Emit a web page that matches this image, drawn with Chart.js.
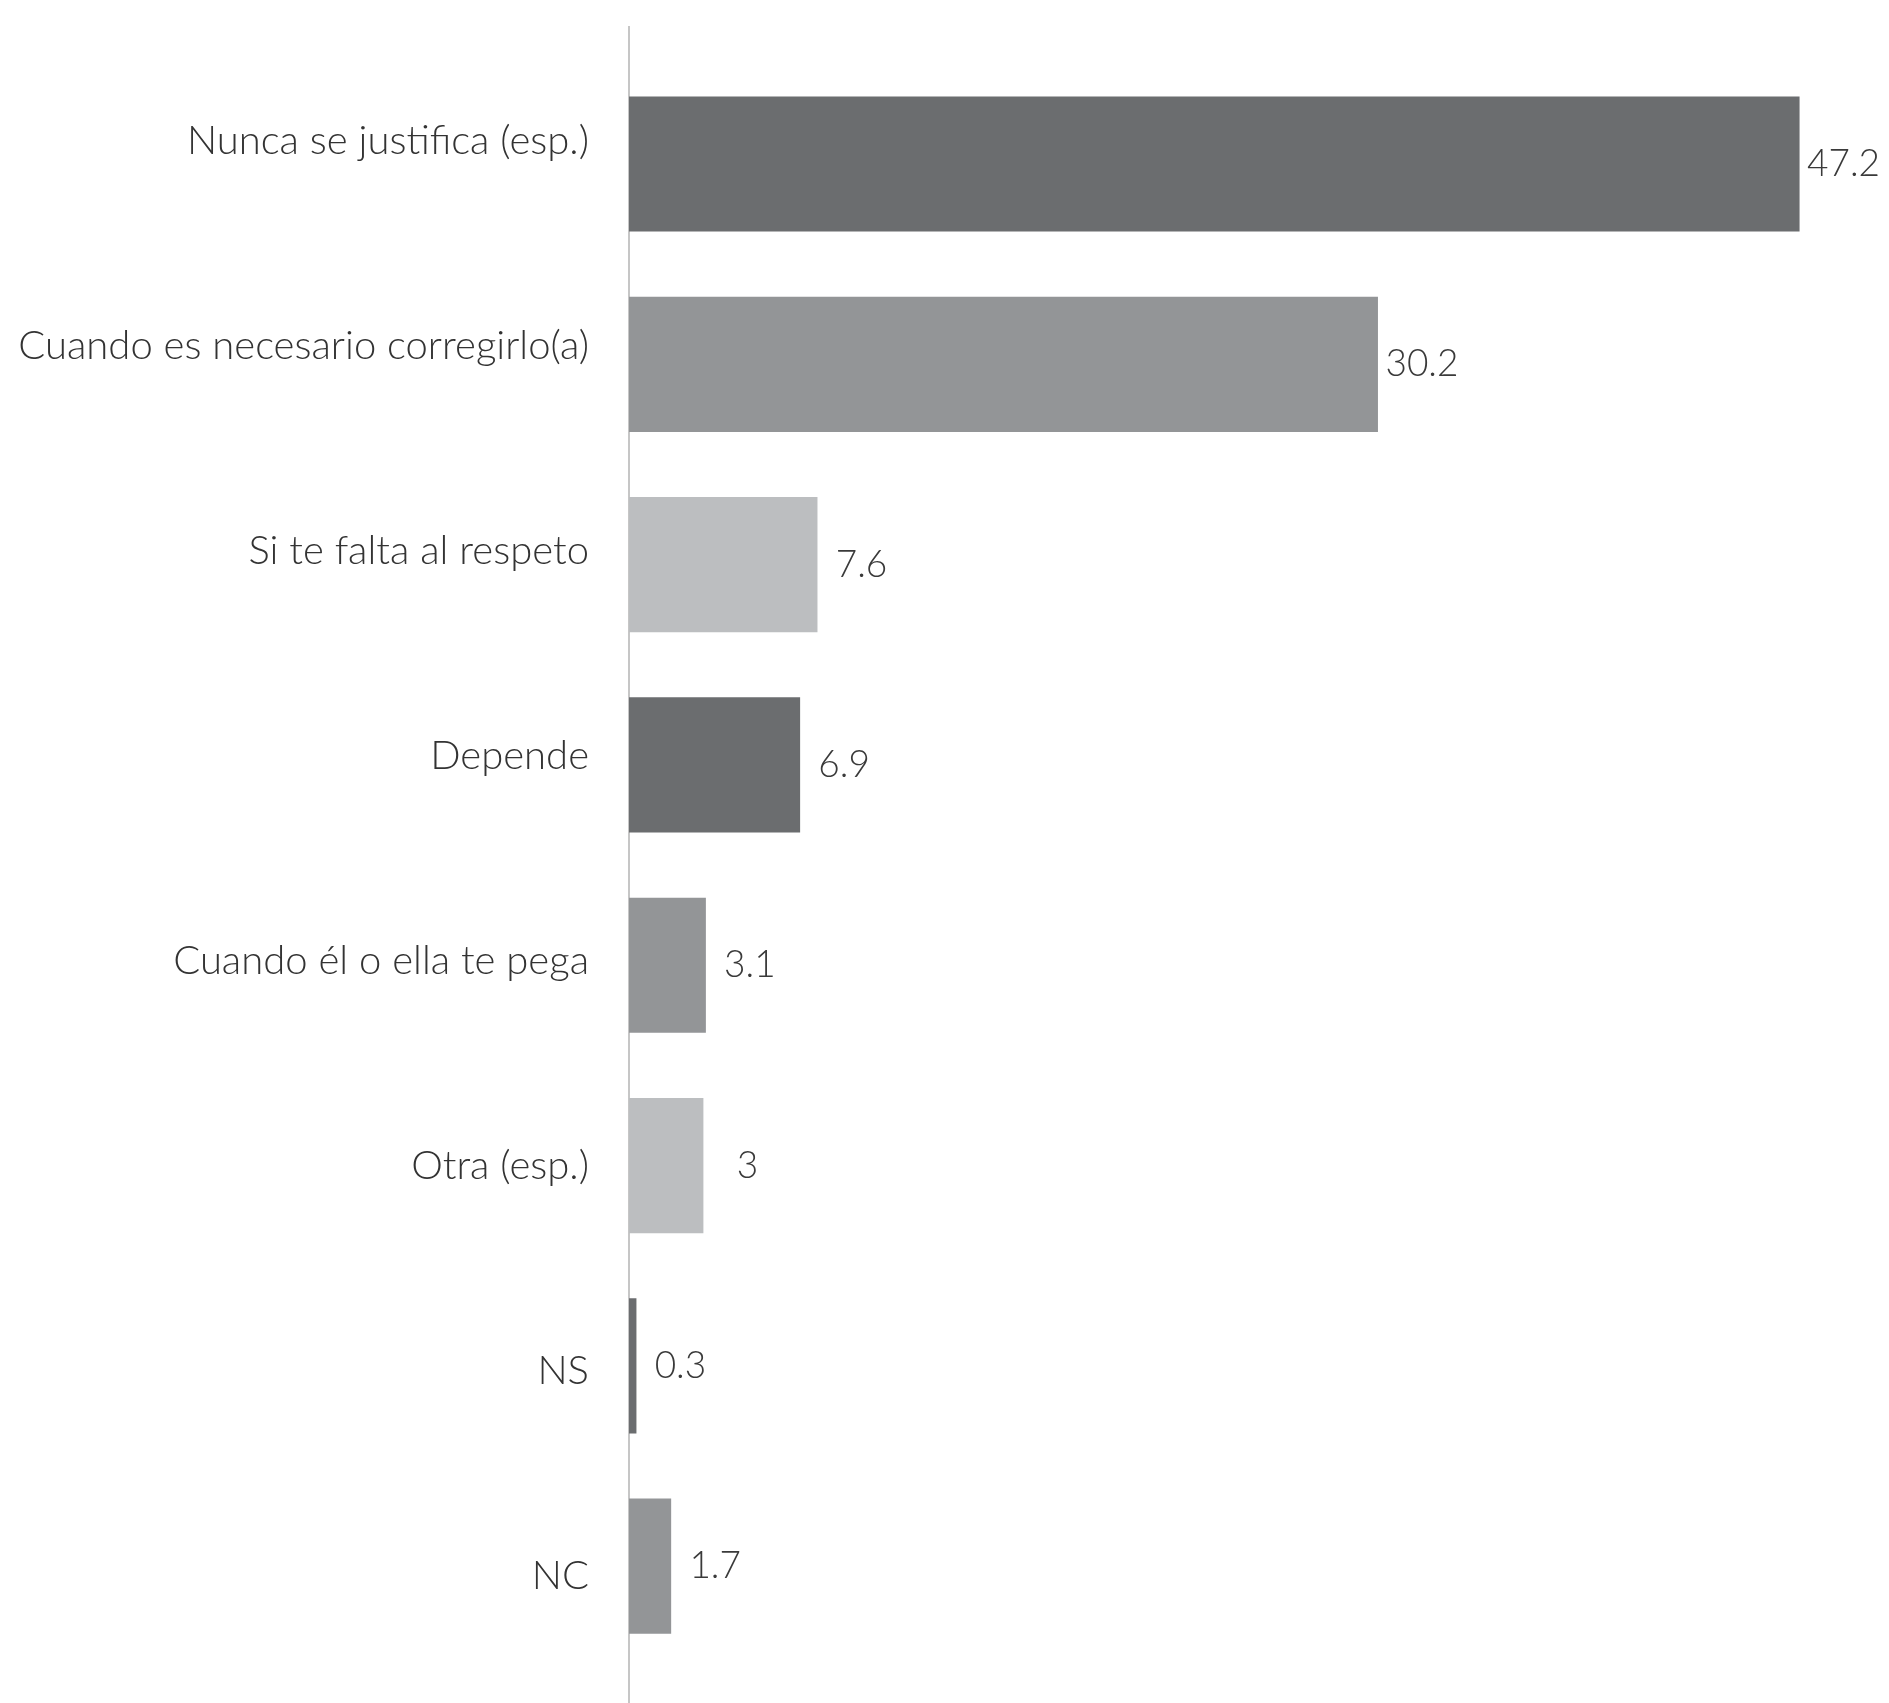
<!DOCTYPE html>
<html>
<head>
<meta charset="utf-8">
<script src="https://cdn.jsdelivr.net/npm/chart.js@4.4.1/dist/chart.umd.min.js"></script>
<style>
  html, body { margin: 0; padding: 0; background: #ffffff; }
  #wrap { width: 1889px; height: 1703px; }
</style>
</head>
<body>
<div id="wrap"><canvas id="c" width="1889" height="1703"></canvas></div>
<script>
const categories = [
  "Nunca se justifica (esp.)",
  "Cuando es necesario corregirlo(a)",
  "Si te falta al respeto",
  "Depende",
  "Cuando él o ella te pega",
  "Otra (esp.)",
  "NS",
  "NC"
];
const values = [47.2, 30.2, 7.6, 6.9, 3.1, 3, 0.3, 1.7];
const barColors = ["#6b6d6f", "#939597", "#bcbec0", "#6b6d6f", "#939597", "#bcbec0", "#6b6d6f", "#939597"];

const FONT = "Lato";

const valueLabels = {
  id: "valueLabels",
  afterDatasetsDraw(chart) {
    const ctx = chart.ctx;
    const meta = chart.getDatasetMeta(0);
    ctx.save();
    ctx.font = "300 37px " + FONT;
    ctx.fillStyle = "#3a3a3a";
    ctx.textAlign = "center";
    ctx.textBaseline = "middle";
    meta.data.forEach((el, i) => {
      ctx.fillText(String(values[i]), el.x + 44, el.y);
    });
    ctx.restore();
  }
};

new Chart(document.getElementById("c"), {
  type: "bar",
  data: {
    datasets: [{
      data: values.map((v, i) => ({ x: v, y: i })),
      backgroundColor: barColors,
      borderWidth: 0,
      categoryPercentage: 1,
      barPercentage: 0.675
    }]
  },
  options: {
    indexAxis: "y",
    responsive: false,
    devicePixelRatio: 1,
    animation: false,
    layout: { padding: { top: 27, right: 20, bottom: 0, left: 0 } },
    plugins: { legend: { display: false }, tooltip: { enabled: false } },
    scales: {
      x: {
        type: "linear",
        min: 0,
        max: 50,
        display: false
      },
      y: {
        type: "linear",
        reverse: true,
        offset: false,
        min: -0.684,
        max: 7.683,
        display: false,
        afterBuildTicks(scale) {
          scale.ticks = categories.map((c, i) => ({ value: i }));
        }
      },
      yl: {
        type: "linear",
        axis: "y",
        position: "left",
        reverse: true,
        offset: false,
        min: -0.556,
        max: 7.62,
        grid: { display: false },
        border: { display: true, color: "#c6c6c6", width: 2 },
        afterBuildTicks(scale) {
          scale.ticks = categories.map((c, i) => ({ value: i }));
        },
        afterFit(scale) {
          scale.width = 629;
          scale.paddingTop = 0;
          scale.paddingBottom = 0;
        },
        ticks: {
          autoSkip: false,
          padding: 32,
          color: "#333333",
          font: { family: FONT, size: 40, weight: "300" },
          callback: (v) => categories[v]
        }
      }
    }
  },
  plugins: [valueLabels]
});
</script>
</body>
</html>
